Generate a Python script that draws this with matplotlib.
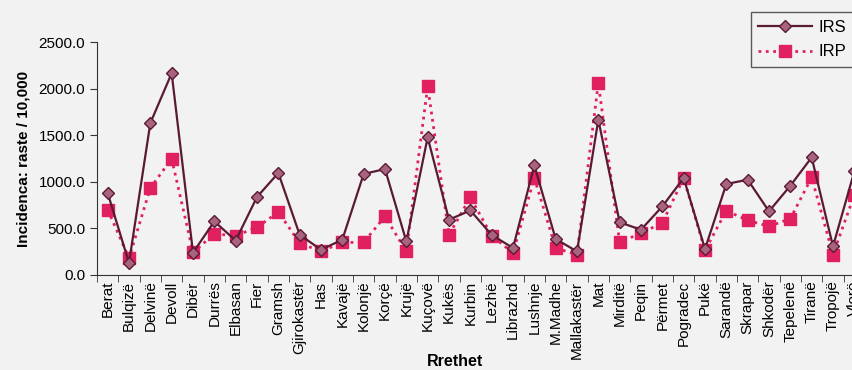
import numpy as np
import matplotlib.pyplot as plt

plt.rcParams['font.family'] = ['Liberation Sans', 'DejaVu Sans']

districts = ["Berat", "Bulqizë", "Delvinë", "Devoll", "Dibër", "Durrës", "Elbasan",
             "Fier", "Gramsh", "Gjirokastër", "Has", "Kavajë", "Kolonjë", "Korçë",
             "Krujë", "Kuçovë", "Kukës", "Kurbin", "Lezhë", "Librazhd", "Lushnje",
             "M.Madhe", "Mallakastër", "Mat", "Mirditë", "Peqin", "Përmet",
             "Pogradec", "Pukë", "Sarandë", "Skrapar", "Shkodër", "Tepelenë",
             "Tiranë", "Tropojë", "Vlorë"]

irs = [880, 130, 1630, 2165, 240, 575, 370, 837, 1095, 432, 271, 379, 1084, 1137,
       361, 1477, 593, 693, 430, 290, 1176, 386, 253, 1666, 565, 486, 736,
       1041, 279, 976, 1023, 683, 958, 1262, 307, 1112]
irp = [700, 182, 933, 1248, 243, 440, 422, 511, 676, 343, 253, 350, 350, 629,
       253, 2024, 432, 833, 422, 236, 1041, 290, 218, 2060, 350, 450, 558,
       1041, 264, 690, 586, 522, 604, 1047, 218, 861]

x = np.arange(len(districts))

fig = plt.figure(figsize=(8.53, 3.70), dpi=100, facecolor='#f2f2f2')
ax = fig.add_axes([97/853, 1-275/370, 768/853, 233/370])
ax.set_facecolor('#f2f2f2')

ax.plot(x, irs, '-', color='#5a1a35', lw=1.6, marker='D', markersize=6.5,
        markerfacecolor='#a8647e', markeredgecolor='#5a1a35', label='IRS',
        clip_on=False, zorder=3)
ax.plot(x, irp, ':', color='#e0205f', lw=2.0, marker='s', markersize=8,
        markerfacecolor='#e0205f', markeredgecolor='#e0205f', label='IRP',
        clip_on=False, zorder=2)

ax.set_xlim(-0.5, len(districts)-0.5)
ax.set_ylim(0, 2500)
ax.set_yticks(np.arange(0, 2501, 500))
ax.set_yticklabels([f"{v:.1f}" for v in np.arange(0, 2501, 500)], fontsize=11)

ax.set_xticks(x)
ax.set_xticklabels(districts, rotation=90, fontsize=11)
ax.set_xticks(np.arange(-0.5, len(districts), 1), minor=True)
ax.tick_params(axis='x', which='major', length=0, pad=4)
ax.tick_params(axis='x', which='minor', length=5, direction='out', color='#333333')
ax.tick_params(axis='y', length=5, direction='out', color='#333333')

for s in ['top', 'right']:
    ax.spines[s].set_visible(False)
ax.spines['left'].set_color('#333333')
ax.spines['bottom'].set_color('#333333')

ax.set_ylabel("Incidenca: raste / 10,000", fontsize=11, fontweight='bold', labelpad=6)
fig.text(455/853, 1-361/370, "Rrethet", fontsize=11.5, fontweight='bold',
         ha='center', va='center')

leg = fig.legend(loc='upper left', bbox_to_anchor=(751/853, 1-12/370),
                 bbox_transform=fig.transFigure, fontsize=12, frameon=True,
                 fancybox=False, edgecolor='#333333', facecolor='#f2f2f2',
                 handlelength=3.2, handletextpad=0.4, borderpad=0.45,
                 borderaxespad=0, labelspacing=0.6)
leg.get_frame().set_linewidth(1.0)

fig.savefig("out.png", dpi=100, facecolor=fig.get_facecolor())
